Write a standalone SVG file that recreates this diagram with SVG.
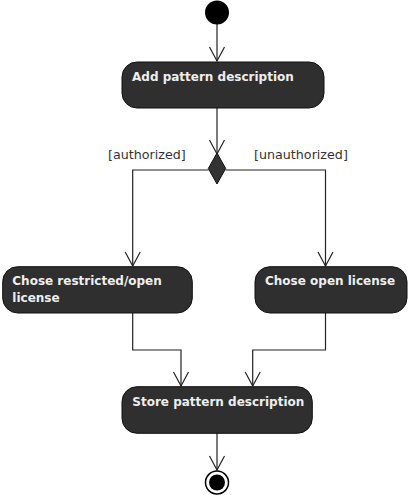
<svg xmlns="http://www.w3.org/2000/svg" width="408" height="495" viewBox="0 0 408 495">
<defs>
<style>
.act{fill:#2f2f2f;stroke:#111;stroke-width:1}
.lbl{font-family:"DejaVu Sans",sans-serif;font-weight:bold;font-size:12px;fill:#eeeeee}
.g{font-family:"DejaVu Sans",sans-serif;font-size:12.7px;fill:#333}
.ln{fill:none;stroke:#222;stroke-width:1.2}
.ah{fill:none;stroke:#222;stroke-width:1.2}
</style>
</defs>
<rect width="408" height="495" fill="#fff"/>
<g id="connectors">
<path class="ln" d="M217 24 V61"/>
<path class="ah" d="M209.5 47 L217 61 L224.5 47"/>
<path class="ln" d="M217 108 V153"/>
<path class="ah" d="M209.5 140 L217 154 L224.5 140"/>
<path class="ln" d="M208.5 170 H132.7 V266"/>
<path class="ah" d="M125.2 252 L132.7 266 L140.2 252"/>
<path class="ln" d="M225.5 170 H325.5 V266"/>
<path class="ah" d="M318 252 L325.5 266 L333 252"/>
<path class="ln" d="M132.7 313 V350 H181 V386"/>
<path class="ah" d="M173.5 372 L181 386 L188.5 372"/>
<path class="ln" d="M325.5 313 V350 H252.7 V386"/>
<path class="ah" d="M245.2 372 L252.7 386 L260.2 372"/>
<path class="ln" d="M217 433 V470"/>
<path class="ah" d="M209.5 456 L217 470 L224.5 456"/>
<text class="g" x="108" y="159">[authorized]</text>
<text class="g" x="254" y="159">[unauthorized]</text>
</g>
<g id="start"><circle cx="217" cy="12.5" r="12" fill="#000"/></g>
<g id="add"><rect class="act" x="122" y="62" width="202" height="46" rx="15"/><text class="lbl" x="132" y="81">Add pattern description</text></g>
<g id="decision"><path d="M217 153 L225.7 168.5 L217 184 L208.3 168.5 Z" fill="#333" stroke="#111"/></g>
<g id="restricted"><rect class="act" x="2.7" y="266.7" width="189.6" height="46.3" rx="15"/><text class="lbl" x="12.3" y="285">Chose restricted/open</text><text class="lbl" x="12.3" y="301.5">license</text></g>
<g id="open"><rect class="act" x="255" y="266.7" width="152" height="46.3" rx="15"/><text class="lbl" x="265" y="285">Chose open license</text></g>
<g id="store"><rect class="act" x="122" y="386.7" width="190.3" height="46.6" rx="15"/><text class="lbl" x="132.3" y="405.5">Store pattern description</text></g>
<g id="end"><circle cx="217" cy="482.5" r="11.5" fill="#fff" stroke="#000" stroke-width="1.5"/><circle cx="217" cy="482.5" r="8" fill="#000"/></g>
</svg>
